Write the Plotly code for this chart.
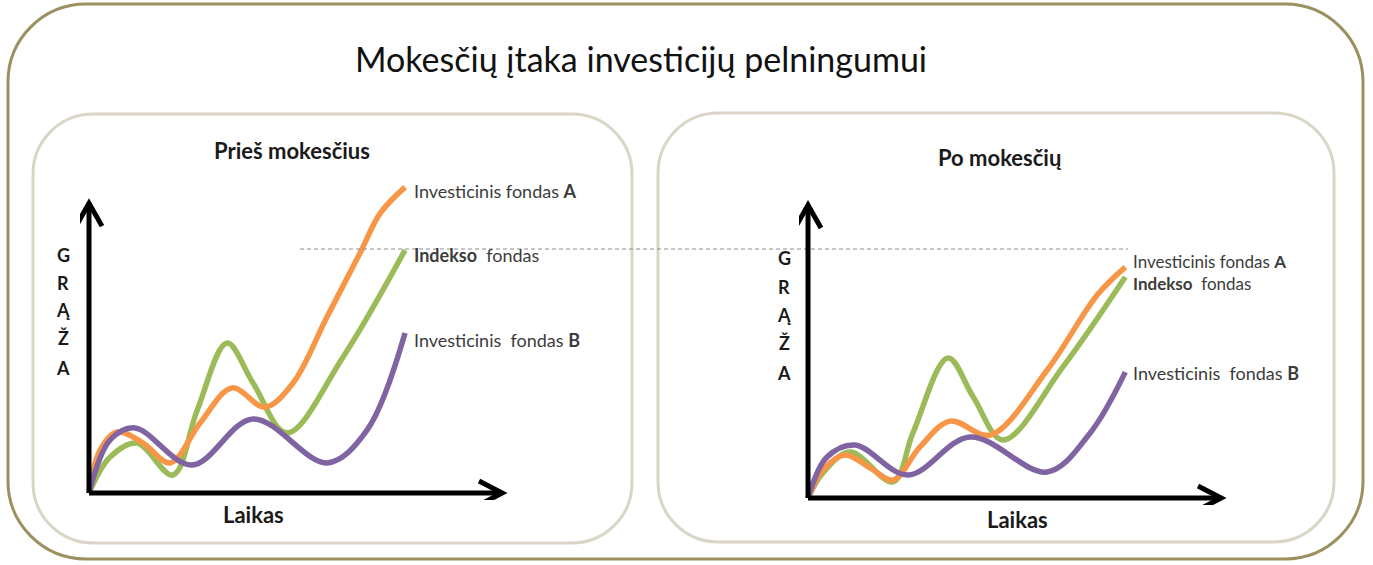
import plotly.graph_objects as go

W, H = 1373, 565

# ---------------- data (conceptual units: time 0-100, return 0-100) ----------------
# Before taxes (left panel)
before_a_x = [0, 2.7, 6.8, 13.1, 19.6, 26.9, 34.6, 42.6, 49.4, 57.6, 65.6, 70.5, 76.5]
before_a_y = [0, 13.9, 19.7, 16.1, 9.7, 22.6, 33.9, 27.7, 35.5, 56.8, 77.4, 90.3, 98.7]
before_idx_x = [0, 5.1, 11.6, 20.3, 26.2, 33.4, 39.7, 47.9, 61.5, 76.5]
before_idx_y = [0, 11.6, 16.1, 5.8, 26.8, 48.4, 35.5, 19.4, 43.9, 78.4]
before_b_x = [0, 5.1, 11.1, 24.9, 39.7, 57.6, 67.3, 76.5]
before_b_y = [0, 17.1, 21.0, 9.0, 23.9, 9.7, 20.3, 51.6]

# After taxes (right panel)
after_a_x = [0, 3.6, 9.0, 15.0, 20.6, 27.1, 34.4, 44.1, 57.9, 70.0, 76.8]
after_a_y = [0, 9.0, 13.9, 9.7, 5.8, 16.5, 24.8, 20.3, 41.3, 65.5, 74.5]
after_idx_x = [0, 3.6, 10.2, 20.6, 25.4, 33.9, 40.0, 47.2, 61.7, 76.8]
after_idx_y = [0, 8.1, 14.8, 5.2, 21.0, 45.2, 32.6, 18.7, 42.3, 71.3]
after_b_x = [0, 4.6, 11.4, 24.2, 39.2, 57.9, 68.3, 76.8]
after_b_y = [0, 13.2, 17.1, 7.4, 19.7, 8.4, 21.0, 40.6]

title_text = "Mokesčių įtaka investicijų pelningumui"
panel_titles = ["Prieš mokesčius", "Po mokesčių"]
x_axis_label = "Laikas"
y_axis_letters = ["G", "R", "Ą", "Ž", "A"]
label_a = "Investicinis fondas <b>A</b>"
label_idx = "<b>Indekso</b>  fondas"
label_b = "Investicinis  fondas <b>B</b>"

C_A = "#f79646"
C_IDX = "#9bbb59"
C_B = "#8064a2"
FONT = "Lato"


def px(x):
    return x / W


def py(y):
    return 1 - y / H


fig = go.Figure()

# layout of the two drawing areas (pixel boxes)
# left:  x 80..510 , y 500..175   ; right: x 799..1229, y 505..180
XR = [-2.18, 101.9]
YR = [-2.26, 102.6]
axcommon = dict(showgrid=False, zeroline=False, showticklabels=False, showline=False,
                ticks="", fixedrange=True)
fig.update_layout(
    xaxis=dict(domain=[px(80), px(510)], range=XR, anchor="y", **axcommon),
    yaxis=dict(domain=[py(500), py(175)], range=YR, anchor="x", **axcommon),
    xaxis2=dict(domain=[px(799), px(1229)], range=XR, anchor="y2", **axcommon),
    yaxis2=dict(domain=[py(505), py(180)], range=YR, anchor="x2", **axcommon),
)

series = [
    (before_idx_x, before_idx_y, C_IDX, "x", "y"),
    (before_a_x, before_a_y, C_A, "x", "y"),
    (before_b_x, before_b_y, C_B, "x", "y"),
    (after_idx_x, after_idx_y, C_IDX, "x2", "y2"),
    (after_a_x, after_a_y, C_A, "x2", "y2"),
    (after_b_x, after_b_y, C_B, "x2", "y2"),
]
for xs, ys, col, xa, ya in series:
    fig.add_trace(go.Scatter(x=xs, y=ys, mode="lines", xaxis=xa, yaxis=ya,
                             line=dict(color=col, width=5.5, shape="spline", smoothing=1.0),
                             showlegend=False, hoverinfo="skip"))

shapes = []


def rrect(x0, y0, x1, y1, r, color, width):
    k = 0.5523 * r
    pts = [
        f"M {px(x0 + r)},{py(y0)}",
        f"L {px(x1 - r)},{py(y0)}",
        f"C {px(x1 - r + k)},{py(y0)} {px(x1)},{py(y0 + r - k)} {px(x1)},{py(y0 + r)}",
        f"L {px(x1)},{py(y1 - r)}",
        f"C {px(x1)},{py(y1 - r + k)} {px(x1 - r + k)},{py(y1)} {px(x1 - r)},{py(y1)}",
        f"L {px(x0 + r)},{py(y1)}",
        f"C {px(x0 + r - k)},{py(y1)} {px(x0)},{py(y1 - r + k)} {px(x0)},{py(y1 - r)}",
        f"L {px(x0)},{py(y0 + r)}",
        f"C {px(x0)},{py(y0 + r - k)} {px(x0 + r - k)},{py(y0)} {px(x0 + r)},{py(y0)} Z",
    ]
    shapes.append(dict(type="path", xref="paper", yref="paper", path=" ".join(pts),
                       line=dict(color=color, width=width), layer="below"))


rrect(8, 4, 1363, 559, 78, "#9b9160", 3)
rrect(33, 114, 632, 543, 60, "#d9d6c8", 3)
rrect(658, 113, 1334, 542, 60, "#d9d6c8", 3)

# dashed reference line
shapes.append(dict(type="line", xref="paper", yref="paper", x0=px(300), x1=px(1128),
                   y0=py(249), y1=py(249), line=dict(color="#8c8c8c", width=1, dash="4px,3px"),
                   layer="above"))

# axis arrows (in each panel's own units)
for xa, ya, ytip in [("x", "y", 93.5), ("x2", "y2", 94.5)]:
    xtip = 100.0
    shapes.append(dict(type="path", xref=xa, yref=ya,
                       path=f"M 0,0 L 0,{ytip} M 0,0 L {xtip},0",
                       line=dict(color="black", width=5)))
    shapes.append(dict(type="path", xref=xa, yref=ya,
                       path=f"M -3.15,{ytip - 7.4} L 0,{ytip} L 3.15,{ytip - 7.4}",
                       line=dict(color="black", width=5)))
    shapes.append(dict(type="path", xref=xa, yref=ya,
                       path=f"M {xtip - 5.6},3.9 L {xtip},0 L {xtip - 5.6},-3.9",
                       line=dict(color="black", width=5)))

ann = []
ann.append(dict(text=title_text, x=px(641), y=py(58), xref="paper", yref="paper",
                showarrow=False, xanchor="center", yanchor="middle",
                font=dict(family=FONT, size=34, color="#111111")))
ann.append(dict(text=f"<b>{panel_titles[0]}</b>", x=px(292), y=py(151), xref="paper", yref="paper",
                showarrow=False, xanchor="center", yanchor="middle",
                font=dict(family=FONT, size=22, color="#1a1a1a")))
ann.append(dict(text=f"<b>{panel_titles[1]}</b>", x=px(1000), y=py(157), xref="paper", yref="paper",
                showarrow=False, xanchor="center", yanchor="middle",
                font=dict(family=FONT, size=22, color="#1a1a1a")))
for cx, cy in [(253, 514), (1017, 519)]:
    ann.append(dict(text=f"<b>{x_axis_label}</b>", x=px(cx), y=py(cy), xref="paper", yref="paper",
                    showarrow=False, xanchor="center", yanchor="middle",
                    font=dict(family=FONT, size=22, color="#1a1a1a")))
for lx, ys in [(63, [255, 283, 310, 338, 368]), (784, [258, 287, 315, 343, 373])]:
    for letter, ly in zip(y_axis_letters, ys):
        ann.append(dict(text=f"<b>{letter}</b>", x=px(lx), y=py(ly), xref="paper", yref="paper",
                        showarrow=False, xanchor="center", yanchor="middle",
                        font=dict(family=FONT, size=18, color="#1a1a1a")))

# series labels, left panel
for txt, ly in zip([label_a, label_idx, label_b], [191, 255, 340]):
    ann.append(dict(text=txt, x=px(412), y=py(ly), xref="paper", yref="paper",
                    showarrow=False, xanchor="left", yanchor="middle",
                    font=dict(family=FONT, size=18, color="#3c3c3c")))
# series labels, right panel (A and index stacked tightly -> one two-line text)
ann.append(dict(text=f"{label_a}<br>{label_idx}", x=px(1131), y=py(272), xref="paper", yref="paper",
                showarrow=False, xanchor="left", yanchor="middle", align="left",
                font=dict(family=FONT, size=17, color="#3c3c3c")))
ann.append(dict(text=label_b, x=px(1131), y=py(373), xref="paper", yref="paper",
                showarrow=False, xanchor="left", yanchor="middle",
                font=dict(family=FONT, size=18, color="#3c3c3c")))

fig.update_layout(
    width=W, height=H, autosize=False,
    margin=dict(l=0, r=0, t=0, b=0, pad=0),
    paper_bgcolor="white", plot_bgcolor="rgba(0,0,0,0)",
    shapes=shapes, annotations=ann, showlegend=False,
)

fig.write_html("out.html", config={"displayModeBar": False},
               post_script="document.body.style.margin='0';document.body.style.overflow='hidden';")
